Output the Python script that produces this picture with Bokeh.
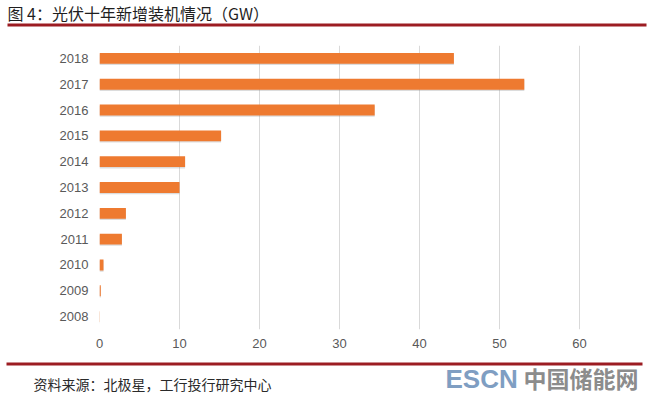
from bokeh.plotting import figure
from bokeh.models import FactorRange, Range1d, ColumnDataSource, FixedTicker
from bokeh.transform import dodge
from bokeh.core.properties import value
from bokeh.layouts import column
from bokeh.embed import file_html
from bokeh.resources import INLINE

years = ["2008", "2009", "2010", "2011", "2012", "2013", "2014", "2015", "2016", "2017", "2018"]
added_gw = [0.04, 0.16, 0.5, 2.8, 3.3, 10.0, 10.7, 15.2, 34.4, 53.1, 44.3]
x_ticks = [0, 10, 20, 30, 40, 50, 60]

title_text = "图 4：光伏十年新增装机情况（GW）"
source_text = "资料来源：北极星，工行投行研究中心"
mark_latin = "ESCN"
mark_cjk = "中国储能网"

W = 652
RED = "#9C1C22"


def blank(h):
    f = figure(width=W, height=h, output_backend="svg", toolbar_location=None,
               x_range=Range1d(0, W), y_range=Range1d(h, 0), min_border=0,
               min_border_left=0, min_border_right=0, min_border_top=0, min_border_bottom=0,
               frame_align=False)
    f.axis.visible = False
    f.grid.visible = False
    f.outline_line_color = None
    return f


# header
top = blank(30)
top.text(x=[7], y=[12], text=[title_text], text_font=value("Noto Sans CJK SC"),
         text_font_size="16px", text_color="#1f1f1f", text_baseline="middle")
top.quad(left=[7], right=[646], top=[23], bottom=[26], fill_color=RED, line_color=None)

# main chart
p = figure(width=W, height=322, output_backend="svg", toolbar_location=None,
           y_range=FactorRange(factors=years, range_padding=0),
           x_range=(0, 65), frame_align=False,
           min_border_left=99, min_border_right=33, min_border_top=15, min_border_bottom=23)
p.outline_line_color = None

src = ColumnDataSource(dict(year=years, v=added_gw))
p.hbar(y=dodge("year", -0.05, range=p.y_range), left=0, right="v", height=0.42, source=src,
       fill_color="#8a8a8a", fill_alpha=0.3, line_color=None)
p.hbar(y="year", left=0, right="v", height=0.42, source=src,
       fill_color="#EE7A30", line_color=None)

p.xaxis.ticker = FixedTicker(ticks=x_ticks)
p.xaxis.axis_line_color = None
p.xaxis.major_tick_line_color = None
p.xaxis.major_tick_out = 0
p.xaxis.major_tick_in = 0
p.xaxis.minor_tick_line_color = None
p.xaxis.major_label_standoff = 9
p.xaxis.major_label_text_font = "Liberation Sans"
p.xaxis.major_label_text_font_size = "13px"
p.xaxis.major_label_text_color = "#595959"

p.yaxis.axis_line_color = None
p.yaxis.major_tick_line_color = None
p.yaxis.major_tick_out = 0
p.yaxis.major_tick_in = 0
p.yaxis.major_label_standoff = 11
p.yaxis.major_label_text_font = "Liberation Sans"
p.yaxis.major_label_text_font_size = "13px"
p.yaxis.major_label_text_color = "#595959"

p.ygrid.grid_line_color = None
p.xgrid.grid_line_color = "#D9D9D9"
p.xgrid.grid_line_width = 1

# footer
bot = blank(45)
bot.quad(left=[6], right=[642], top=[10], bottom=[13], fill_color=RED, line_color=None)
bot.text(x=[33], y=[31], text=[source_text], text_font=value("Noto Sans CJK SC"),
         text_font_size="14px", text_color="#2a2a2a", text_baseline="middle")
bot.text(x=[445], y=[26], text=[mark_latin], text_font=value("Liberation Sans"),
         text_font_size="26px", text_font_style="bold", text_color="#7F9EC2",
         text_baseline="middle")
bot.text(x=[523], y=[25], text=[mark_cjk], text_font=value("Noto Sans CJK SC"),
         text_font_size="23px", text_font_style="bold", text_color="#8c8c8c",
         text_baseline="middle")

layout = column(top, p, bot, spacing=0)
open("out.html", "w").write(file_html(layout, INLINE))
